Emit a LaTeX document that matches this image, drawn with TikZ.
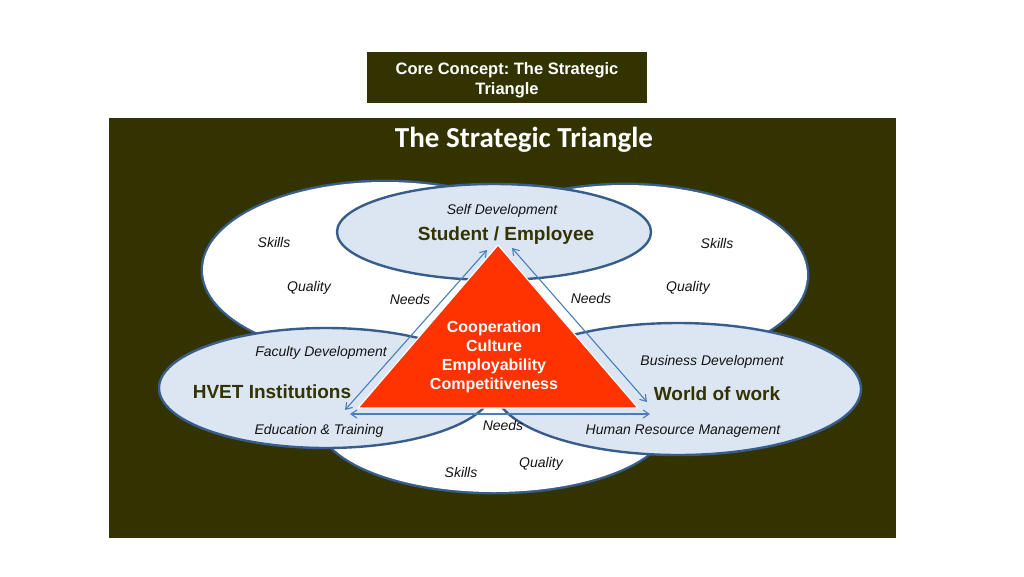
\documentclass[tikz,border=0pt]{standalone}
\usepackage{fontspec}
\setmainfont{Liberation Sans}
\newfontfamily\titlefont{Carlito}
\usetikzlibrary{shapes.geometric,arrows.meta}
\frenchspacing
\definecolor{olive}{RGB}{51,51,0}
\definecolor{edgeblue}{RGB}{56,93,138}
\definecolor{fillblue}{RGB}{220,230,242}
\definecolor{arrblue}{RGB}{74,126,187}
\definecolor{tri}{RGB}{255,51,0}
\definecolor{ink}{RGB}{20,20,20}
\tikzset{
  ell/.style={ellipse, draw=edgeblue, line width=2.4pt, inner sep=0pt},
  whiteedge/.style={ellipse, draw=edgeblue, line width=4.8pt, inner sep=0pt},
  whitefill/.style={ellipse, fill=white, inner sep=0pt},
  blueell/.style={ell, fill=fillblue},
  lbl/.style={font=\fontsize{14}{16}\selectfont\itshape, text=ink, inner sep=0pt},
  big/.style={font=\fontsize{19}{22}\selectfont\bfseries, text=olive, inner sep=0pt},
  arr/.style={draw=arrblue, line width=1.1pt, {Straight Barb[length=6pt,width=8pt]}-{Straight Barb[length=6pt,width=8pt]}},
}
\begin{document}
\begin{tikzpicture}[x=1pt,y=-1pt]
\useasboundingbox (0,0) rectangle (1024,576);
% header box
\node[fill=olive, minimum width=280pt, minimum height=51pt, inner sep=0pt, anchor=north west] (hdr) at (367,52) {};
\node[text=white, align=center, font=\fontsize{16.5}{20}\selectfont\bfseries] (hdrtxt) at (507,80) {Core Concept: The Strategic\\Triangle};
% panel
\node[fill=olive, minimum width=787pt, minimum height=420pt, inner sep=0pt, anchor=north west] (panel) at (109,118) {};
\node[text=white, font=\fontsize{29}{32}\selectfont\titlefont\bfseries, inner sep=0pt] (title) at (524,140) {The Strategic Triangle};
% white ellipses: outlines first, then fills so only the outer boundary shows
\node[whiteedge, minimum width=364pt, minimum height=176pt] (wtle) at (385,270) {};
\node[whiteedge, minimum width=364pt, minimum height=180pt] (wtre) at (625,275) {};
\node[whiteedge, minimum width=350pt, minimum height=144pt] (wbe) at (494,420) {};
\node[whitefill, minimum width=364pt, minimum height=176pt] (wtl) at (385,270) {};
\node[whitefill, minimum width=364pt, minimum height=180pt] (wtr) at (625,275) {};
\node[whitefill, minimum width=350pt, minimum height=144pt] (wb) at (494,420) {};
% blue ellipses
\node[blueell, minimum width=334pt, minimum height=120pt] (bl) at (326,388) {};
\node[blueell, minimum width=366pt, minimum height=132pt] (br) at (678,389) {};
\node[blueell, minimum width=314pt, minimum height=96pt] (bt) at (494,232) {};
% triangle
\coordinate (ta) at (498,245);
\coordinate (tl) at (358,408);
\coordinate (tr) at (638,408);
\fill[tri] (ta) -- (tl) -- (tr) -- cycle;
\draw[white, line width=1.2pt, line join=round] (ta) -- (tl) -- (tr) -- cycle;
% arrows
\coordinate (la) at (345,410);
\coordinate (lb) at (487,250);
\coordinate (ra) at (512,248);
\coordinate (rb) at (647,402);
\coordinate (ba) at (350,414);
\coordinate (bb) at (650,414);
\draw[arr] (la) -- (lb);
\draw[arr] (ra) -- (rb);
\draw[arr] (ba) -- (bb);
% triangle text
\node[text=white, align=center, font=\fontsize{16}{19.2}\selectfont\bfseries, inner sep=0pt] (core) at (494,357) {Cooperation\\Culture\\Employability\\Competitiveness};
% labels
\node[lbl] (sd) at (502,211) {Self Development};
\node[big] (se) at (506,236) {Student / Employee};
\node[lbl] (sk1) at (274,242) {Skills};
\node[lbl] (sk2) at (717,243) {Skills};
\node[lbl] (q1) at (309,288) {Quality};
\node[lbl] (q2) at (688,288) {Quality};
\node[lbl] (n1) at (410,299) {Needs};
\node[lbl] (n2) at (591,298) {Needs};
\node[lbl] (n3) at (503,425) {Needs};
\node[lbl] (fd) at (321,353) {Faculty Development};
\node[big] (hv) at (272,392) {HVET Institutions};
\node[lbl] (et) at (319,431) {Education \& Training};
\node[lbl] (bd) at (712,362) {Business Development};
\node[big] (ww) at (717,394) {World of work};
\node[lbl] (hr) at (683,431) {Human Resource Management};
\node[lbl] (sk3) at (461,472) {Skills};
\node[lbl] (q3) at (541,464) {Quality};
\end{tikzpicture}
\end{document}
